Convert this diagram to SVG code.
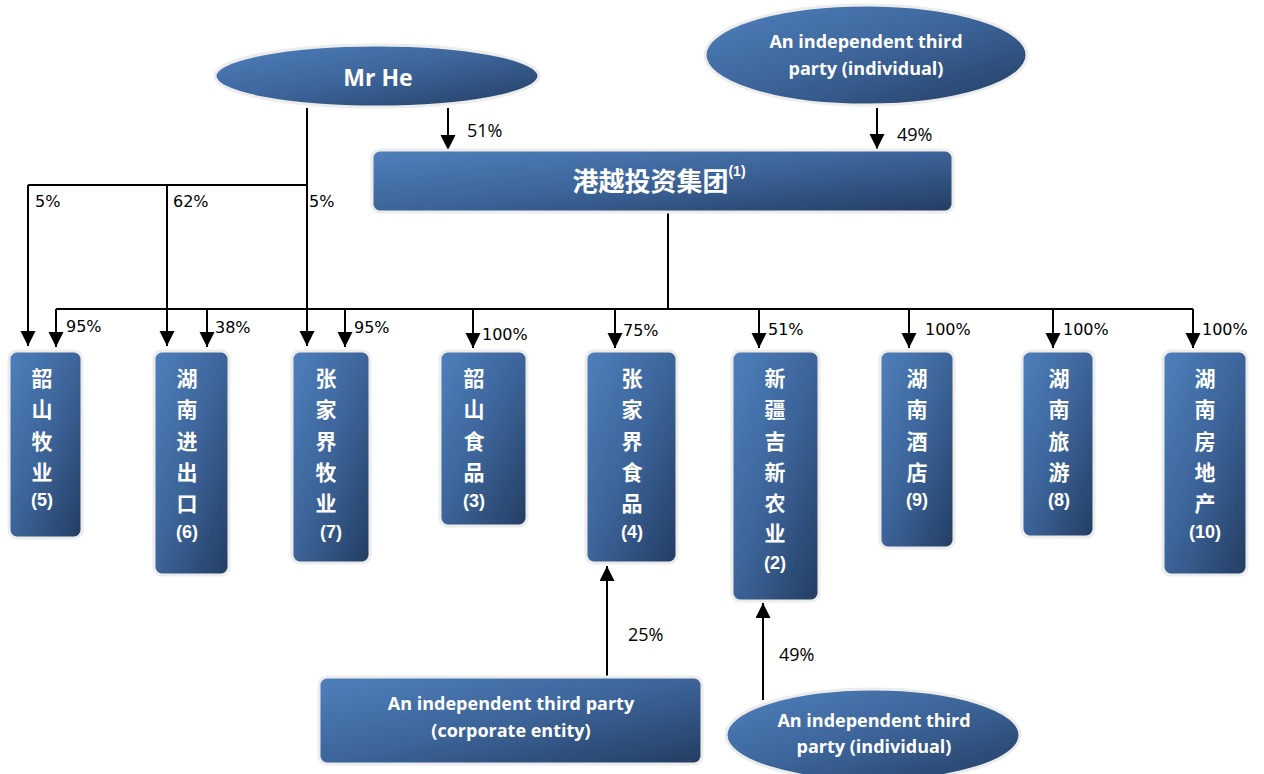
<svg xmlns="http://www.w3.org/2000/svg" width="1264" height="774" viewBox="0 0 1264 774">
<defs>
<linearGradient id="g" x1="0" y1="0" x2="1" y2="1">
<stop offset="0" stop-color="#4f80bd"/>
<stop offset="0.5" stop-color="#3c6499"/>
<stop offset="1" stop-color="#233d62"/>
</linearGradient>
<marker id="ah" markerUnits="userSpaceOnUse" markerWidth="17" markerHeight="17" refX="15" refY="7.5" orient="auto">
<path d="M0,0 L15,7.5 L0,15 z" fill="#000"/>
</marker>
</defs>
<style>
.n{fill:url(#g);stroke:#ececec;stroke-width:3}
.en{font-family:"Open Sans","Liberation Sans",sans-serif;font-weight:bold;fill:#fff;text-anchor:middle}
.zh{font-family:"Noto Sans CJK SC",sans-serif;font-weight:bold;fill:#fff;text-anchor:middle;font-size:21px}
.num{font-family:"Liberation Sans",sans-serif;font-weight:bold;fill:#fff;text-anchor:middle;font-size:18px}
.c{stroke:#000;stroke-width:2;fill:none}
.a{marker-end:url(#ah)}
.p{font-family:"DejaVu Sans",sans-serif;font-size:16px;fill:#000}
.q{font-family:"Open Sans","Liberation Sans",sans-serif;font-size:18px;fill:#000}
</style>
<g id="connectors">
<line class="c a" x1="448" y1="108" x2="448" y2="150"/>
<line class="c a" x1="877" y1="108" x2="877" y2="149"/>
<polyline class="c" points="307,108 307,185 28,185"/>
<line class="c a" x1="307" y1="185" x2="307" y2="346"/>
<line class="c a" x1="28" y1="185" x2="28" y2="346"/>
<line class="c a" x1="167" y1="185" x2="167" y2="346"/>
<line class="c" x1="668" y1="212" x2="668" y2="310"/>
<line class="c" x1="56" y1="309" x2="1193" y2="309"/>
<line class="c a" x1="56" y1="309" x2="56" y2="347"/>
<line class="c a" x1="207" y1="309" x2="207" y2="347"/>
<line class="c a" x1="345" y1="309" x2="345" y2="347"/>
<line class="c a" x1="473" y1="309" x2="473" y2="348"/>
<line class="c a" x1="615" y1="309" x2="615" y2="348"/>
<line class="c a" x1="759" y1="309" x2="759" y2="348"/>
<line class="c a" x1="909" y1="309" x2="909" y2="348"/>
<line class="c a" x1="1053" y1="309" x2="1053" y2="348"/>
<line class="c a" x1="1193" y1="309" x2="1193" y2="348"/>
<line class="c a" x1="607" y1="676" x2="607" y2="566"/>
<line class="c a" x1="763" y1="700" x2="763" y2="603"/>
<text class="q" x="467" y="137">51%</text>
<text class="q" x="897" y="141">49%</text>
<text class="p" x="35" y="207">5%</text>
<text class="p" x="173" y="207">62%</text>
<text class="p" x="309" y="207">5%</text>
<text class="p" x="66" y="332">95%</text>
<text class="p" x="215" y="333">38%</text>
<text class="p" x="354" y="333">95%</text>
<text class="p" x="482" y="340">100%</text>
<text class="p" x="623" y="336">75%</text>
<text class="p" x="768" y="335">51%</text>
<text class="p" x="925" y="335">100%</text>
<text class="p" x="1063" y="335">100%</text>
<text class="p" x="1202" y="335">100%</text>
<text class="q" x="628" y="641">25%</text>
<text class="q" x="779" y="661">49%</text>
</g>
<g id="mrhe">
<ellipse class="n" cx="377" cy="76" rx="162" ry="31"/>
<text class="en" x="378" y="86" font-size="23">Mr He</text>
</g>
<g id="third-top">
<ellipse class="n" cx="866" cy="55" rx="161" ry="50"/>
<text class="en" x="866" y="48" font-size="18">An independent third</text>
<text class="en" x="866" y="75" font-size="18">party (individual)</text>
</g>
<g id="gangyue">
<rect class="n" x="372" y="150" width="581" height="62" rx="8"/>
<text x="659" y="191" font-family="Noto Sans CJK SC,sans-serif" font-weight="bold" font-size="26" fill="#fff" text-anchor="middle">港越投资集团<tspan font-family="Liberation Sans,sans-serif" font-size="14" dy="-15">(1)</tspan></text>
</g>
<g id="n5">
<rect class="n" x="9" y="351" width="73" height="187" rx="8"/>
<text class="zh" x="42" y="386">韶</text><text class="zh" x="42" y="417">山</text><text class="zh" x="42" y="449">牧</text><text class="zh" x="42" y="480">业</text>
<text class="num" x="42" y="506">(5)</text>
</g>
<g id="n6">
<rect class="n" x="154" y="351" width="75" height="224" rx="8"/>
<text class="zh" x="187" y="386">湖</text><text class="zh" x="187" y="417">南</text><text class="zh" x="187" y="449">进</text><text class="zh" x="187" y="480">出</text><text class="zh" x="187" y="511">口</text>
<text class="num" x="187" y="538">(6)</text>
</g>
<g id="n7">
<rect class="n" x="292" y="351" width="78" height="212" rx="8"/>
<text class="zh" x="326" y="386">张</text><text class="zh" x="326" y="417">家</text><text class="zh" x="326" y="449">界</text><text class="zh" x="326" y="480">牧</text><text class="zh" x="326" y="511">业</text>
<text class="num" x="331" y="538">(7)</text>
</g>
<g id="n3">
<rect class="n" x="440" y="351" width="87" height="175" rx="8"/>
<text class="zh" x="474" y="386">韶</text><text class="zh" x="474" y="417">山</text><text class="zh" x="474" y="449">食</text><text class="zh" x="474" y="480">品</text>
<text class="num" x="474" y="507">(3)</text>
</g>
<g id="n4">
<rect class="n" x="586" y="351" width="91" height="212" rx="8"/>
<text class="zh" x="632" y="386">张</text><text class="zh" x="632" y="417">家</text><text class="zh" x="632" y="449">界</text><text class="zh" x="632" y="480">食</text><text class="zh" x="632" y="511">品</text>
<text class="num" x="632" y="538">(4)</text>
</g>
<g id="n2">
<rect class="n" x="732" y="351" width="87" height="250" rx="8"/>
<text class="zh" x="775" y="386">新</text><text class="zh" x="775" y="417">疆</text><text class="zh" x="775" y="449">吉</text><text class="zh" x="775" y="480">新</text><text class="zh" x="775" y="511">农</text><text class="zh" x="775" y="541">业</text>
<text class="num" x="775" y="569">(2)</text>
</g>
<g id="n9">
<rect class="n" x="880" y="351" width="74" height="197" rx="8"/>
<text class="zh" x="917" y="386">湖</text><text class="zh" x="917" y="417">南</text><text class="zh" x="917" y="449">酒</text><text class="zh" x="917" y="480">店</text>
<text class="num" x="917" y="506">(9)</text>
</g>
<g id="n8">
<rect class="n" x="1022" y="351" width="72" height="186" rx="8"/>
<text class="zh" x="1059" y="386">湖</text><text class="zh" x="1059" y="417">南</text><text class="zh" x="1059" y="449">旅</text><text class="zh" x="1059" y="480">游</text>
<text class="num" x="1059" y="506">(8)</text>
</g>
<g id="n10">
<rect class="n" x="1163" y="351" width="84" height="224" rx="8"/>
<text class="zh" x="1205" y="386">湖</text><text class="zh" x="1205" y="417">南</text><text class="zh" x="1205" y="449">房</text><text class="zh" x="1205" y="480">地</text><text class="zh" x="1205" y="511">产</text>
<text class="num" x="1205" y="538">(10)</text>
</g>
<g id="third-corp">
<rect class="n" x="319" y="677" width="383" height="87" rx="8"/>
<text class="en" x="511" y="710" font-size="18">An independent third party</text>
<text class="en" x="511" y="737" font-size="18">(corporate entity)</text>
</g>
<g id="third-bottom">
<ellipse class="n" cx="873" cy="735" rx="147" ry="46"/>
<text class="en" x="874" y="727" font-size="18">An independent third</text>
<text class="en" x="874" y="753" font-size="18">party (individual)</text>
</g>
</svg>
